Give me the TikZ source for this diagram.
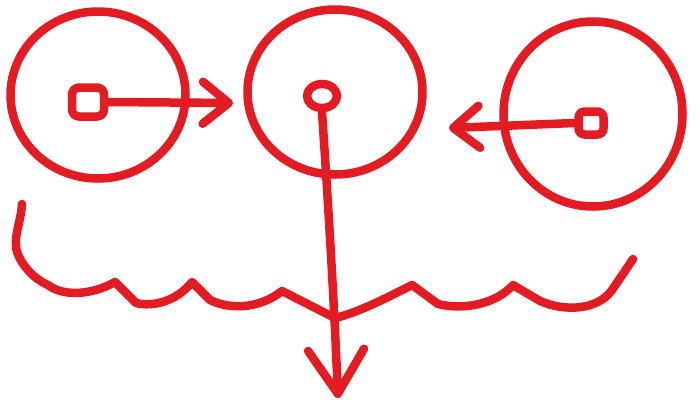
\documentclass[tikz,border=0pt]{standalone}
\usetikzlibrary{arrows.meta,shapes.geometric}
\definecolor{inkred}{HTML}{E31B23}
\begin{document}
\begin{tikzpicture}[x=1pt,y=-1pt,
  ink/.style={draw=inkred,line width=8.5pt,line cap=round,line join=round},
  ring/.style={ink,ellipse,inner sep=0pt},
  marker/.style={ink,rounded corners=7pt,inner sep=0pt},
  tipsmall/.style={-{Straight Barb[length=26pt,width=42pt,round]}},
  tipbig/.style={-{Straight Barb[length=44pt,width=56pt,round]}}]
\useasboundingbox (0,0) rectangle (700,408);
% rings
\node[ring,minimum width=175pt,minimum height=167pt] (ringL) at (98,95) {};
\node[ring,minimum width=175pt,minimum height=165pt] (ringM) at (335,92) {};
\node[ring,minimum width=179pt,minimum height=185pt] (ringR) at (593,114) {};
% markers
\node[marker,minimum width=32pt,minimum height=29pt] (mL) at (88,102) {};
\node[ring,minimum width=30pt,minimum height=24pt] (mM) at (322,96) {};
\node[marker,minimum width=25pt,minimum height=23pt,rounded corners=6pt] (mR) at (591,123) {};
% arrow ends
\coordinate (eL) at (233,103);
\coordinate (eR) at (449,128);
\coordinate (eM) at (338,398);
\draw[ink,tipsmall] (mL.east) -- (eL);
\draw[ink,tipsmall] (mR.west) -- (eR);
\draw[ink,tipbig] (mM.south) .. controls (328,200) and (334,300) .. (eM);
% wavy line
\draw[ink] (22,204)
  .. controls (21,222) and (13,236) .. (17,252)
  .. controls (22,266) and (34,279) .. (48,285)
  .. controls (62,296) and (90,296) .. (115,282)
  -- (136,303)
  .. controls (152,307) and (176,302) .. (192,282)
  -- (210,300)
  .. controls (228,309) and (258,310) .. (282,291)
  -- (335,318)
  .. controls (360,312) and (390,296) .. (412,285)
  -- (438,304)
  .. controls (462,310) and (495,305) .. (513,285)
  -- (540,301)
  .. controls (565,312) and (598,310) .. (612,290)
  -- (633,259);
\end{tikzpicture}
\end{document}
